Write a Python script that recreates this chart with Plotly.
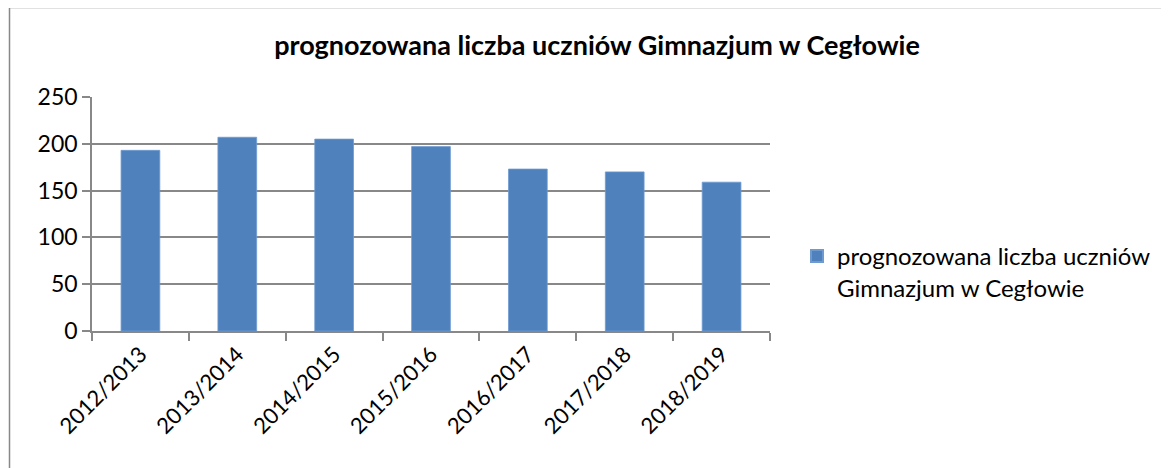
import plotly.graph_objects as go

categories = ["2012/2013", "2013/2014", "2014/2015", "2015/2016", "2016/2017", "2017/2018", "2018/2019"]
values = [193, 207, 205, 197, 173, 170, 159]
series_name = "prognozowana liczba uczniów<br>Gimnazjum w Cegłowie"
title_text = "prognozowana liczba uczniów Gimnazjum w Cegłowie"
y_ticks = [0, 50, 100, 150, 200, 250]

OFF = 8  # page body margin
W, H = 1161, 460
PL, PR, PT, PB = 92, 770, 97, 331  # plot area in window pixels
L, T = PL - OFF, PT - OFF
pw, ph = PR - PL, PB - PT
R, B = W - L - pw, H - T - ph

def px_x(x):
    return (x - PL) / pw

def px_y(y):
    return (PB - y) / ph

fig = go.Figure()
fig.add_trace(go.Bar(
    x=categories, y=values, name=series_name,
    marker=dict(color="#4F81BD", line=dict(color="#6f9ad0", width=0.8)),
    width=0.4, showlegend=True,
))

font_main = "Lato, Calibri, Carlito, sans-serif"

fig.update_layout(
    width=W, height=H,
    margin=dict(l=L, r=R, t=T, b=B, autoexpand=False),
    paper_bgcolor="white", plot_bgcolor="white",
    title=dict(text="<b>" + title_text + "</b>", x=(597 - OFF) / W, xanchor="center",
               y=1 - (46 - OFF) / H, yanchor="middle", xref="container", yref="container",
               font=dict(family=font_main, size=27, color="black")),
    font=dict(family=font_main, size=23, color="black"),
    xaxis=dict(
        type="category", tickangle=-45, showgrid=False,
        showline=True, linecolor="#888888", linewidth=1.5,
        ticks="outside", ticklen=8, tickcolor="#888888", tickwidth=1.5,
        tickson="boundaries", range=[-0.5, 6.5],
        tickfont=dict(family=font_main, size=22, color="black"),
    ),
    yaxis=dict(
        range=[0, 250], tickvals=y_ticks, showgrid=True, gridcolor="#888888", gridwidth=1.5,
        showline=True, linecolor="#888888", linewidth=1.5,
        ticks="outside", ticklen=8, tickcolor="#888888", tickwidth=1.5,
        zeroline=False,
        tickfont=dict(family=font_main, size=23, color="black"),
    ),
    legend=dict(x=px_x(797), y=px_y(234), xanchor="left", yanchor="top",
                valign="top", font=dict(family=font_main, size=24, color="black"),
                bgcolor="rgba(0,0,0,0)", itemsizing="constant"),
    shapes=[dict(type="rect", xref="paper", yref="paper",
                 x0=px_x(9.5), x1=px_x(1190), y0=px_y(490), y1=px_y(7.5),
                 line=dict(color="#888888", width=1.5), layer="below")],
)

fig.write_html("out.html")
